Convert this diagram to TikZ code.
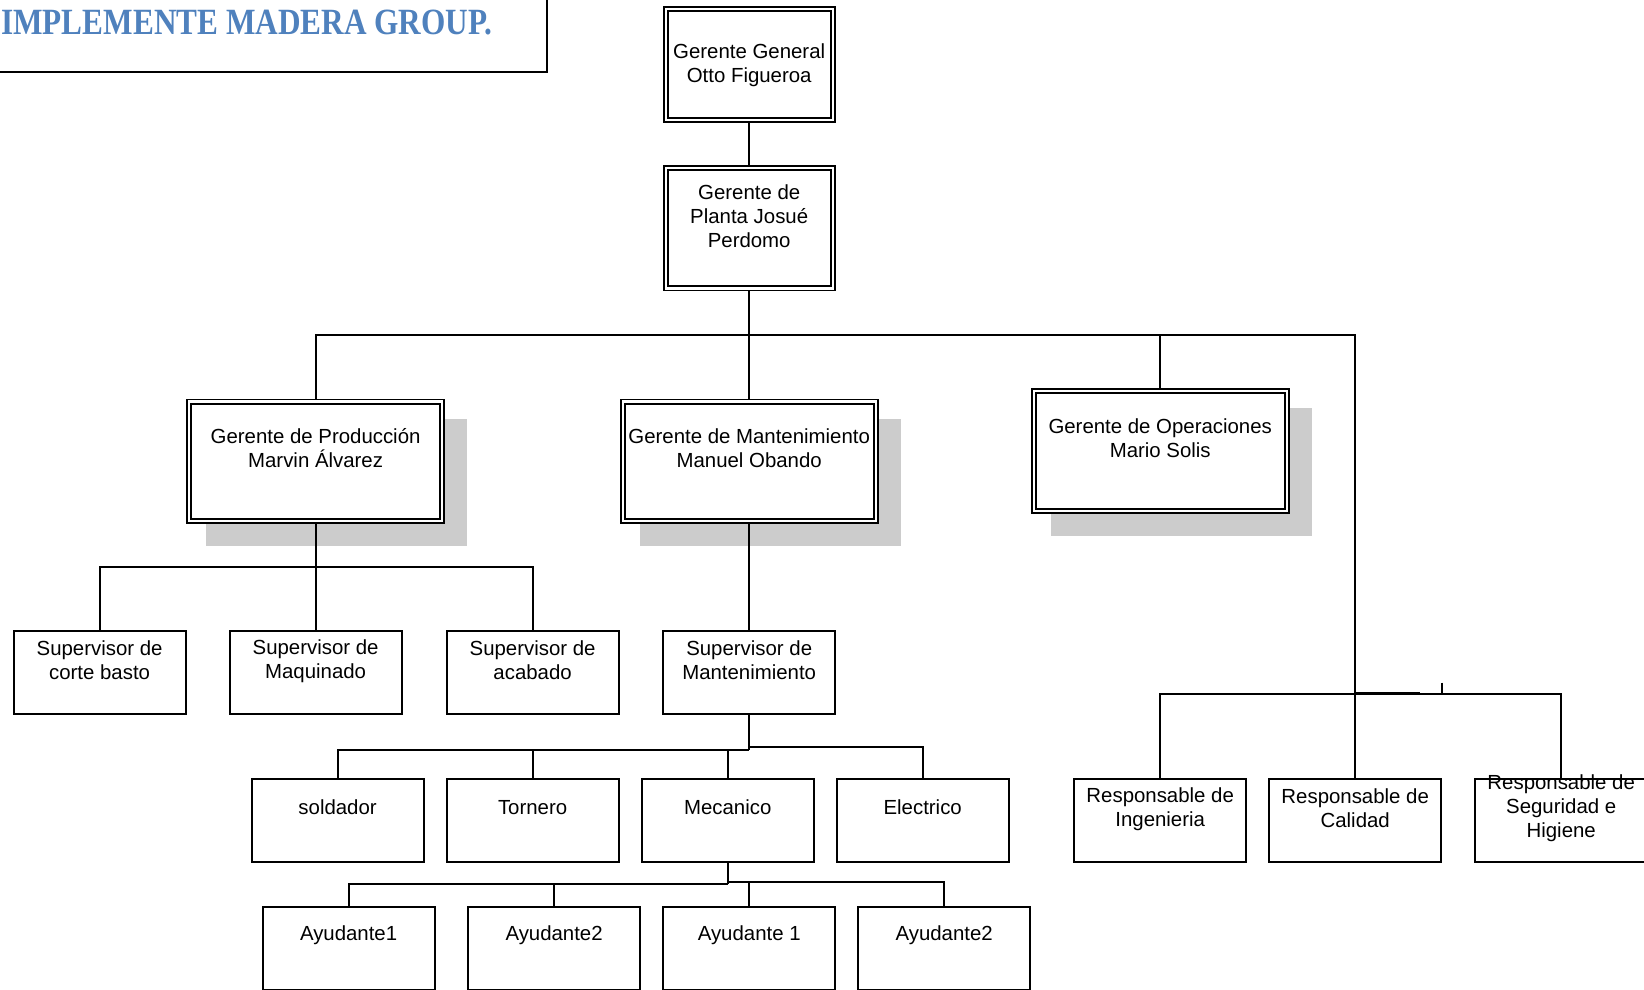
\documentclass[tikz,border=0pt]{standalone}
\usepackage{fontspec}
\setmainfont{Liberation Sans}
\newfontfamily\titlefont{Liberation Serif}
\usepackage{graphicx}
\usetikzlibrary{backgrounds}
\definecolor{titleblue}{HTML}{4F81BD}
\definecolor{shadowgray}{HTML}{CCCCCC}
\begin{document}
\begin{tikzpicture}[x=1pt,y=-1pt,
  dbox/.style={draw, double, line width=1.9pt, double distance=2.2pt, fill=white, inner sep=0pt},
  sbox/.style={draw, line width=2pt, fill=white, inner sep=0pt, minimum width=172pt, minimum height=83pt},
  txt/.style={font=\fontsize{20.4}{24}\selectfont, align=center, inner sep=0pt},
  conn/.style={line width=2pt},
  shad/.style={fill=shadowgray}
]
\useasboundingbox (0,0) rectangle (1644,990);

% title
\node[draw, line width=2pt, minimum width=560pt, minimum height=85pt, inner sep=0pt] (tbox) at (267,29.5) {};
\node[font=\titlefont\bfseries\fontsize{37}{40}\selectfont, text=titleblue, anchor=base west, inner sep=0pt] (title) at (1,34.8) {\scalebox{0.845}[1]{IMPLEMENTE MADERA GROUP.}};

% top levels
\node[dbox, minimum width=167pt, minimum height=110.3pt] (gg) at (749.2,64.5) {};
\node[txt] (ggt) at (749.2,65.5) {Gerente General\\Otto Figueroa};
\node[dbox, minimum width=167pt, minimum height=120.8pt] (gp) at (749.2,228) {};
\node[txt] (gpt) at (749.2,216) {Gerente de\\Planta Josué\\Perdomo};

\node[dbox, minimum width=252.9pt, minimum height=119.8pt] (prod) at (315.6,461.4) {};
\node[txt] (prodt) at (315.6,448) {Gerente de Producción\\Marvin Álvarez};
\node[dbox, minimum width=252.9pt, minimum height=119.8pt] (mant) at (749.2,461.4) {};
\node[txt] (mantt) at (749.2,448) {Gerente de Mantenimiento\\Manuel Obando};
\node[dbox, minimum width=252.9pt, minimum height=119.7pt] (oper) at (1160.2,450.9) {};
\node[txt] (opert) at (1160.2,438.3) {Gerente de Operaciones\\Mario Solis};

% supervisors
\node[sbox] (corte) at (99.6,672.7) {};
\node[txt] (cortet) at (99.6,660) {Supervisor de\\corte basto};
\node[sbox] (maq) at (315.6,672.7) {};
\node[txt] (maqt) at (315.6,661.5) {Supervisor de\\Maquinado};
\node[sbox] (acab) at (532.6,672.7) {};
\node[txt] (acabt) at (532.6,660) {Supervisor de\\acabado};
\node[sbox] (supmant) at (749.2,672.7) {};
\node[txt] (supmantt) at (749.2,660) {Supervisor de\\Mantenimiento};

% level 4
\node[sbox] (sold) at (337.6,820.5) {};
\node[txt] (soldt) at (337.6,807) {soldador};
\node[sbox] (torn) at (532.6,820.5) {};
\node[txt] (tornt) at (532.6,807.5) {Tornero};
\node[sbox] (mec) at (727.7,820.5) {};
\node[txt] (mect) at (727.7,807) {Mecanico};
\node[sbox] (elec) at (922.7,820.5) {};
\node[txt] (elect) at (922.7,807) {Electrico};

% level 5
\node[sbox] (ay1) at (348.6,948.5) {};
\node[txt] (ay1t) at (348.6,935.5) {Ayudante1};
\node[sbox] (ay2) at (554.1,948.5) {};
\node[txt] (ay2t) at (554.1,935.5) {Ayudante2};
\node[sbox] (ay3) at (749.2,948.5) {};
\node[txt] (ay3t) at (749.2,935.5) {Ayudante 1};
\node[sbox] (ay4) at (944.2,948.5) {};
\node[txt] (ay4t) at (944.2,935.5) {Ayudante2};

% responsables
\node[sbox] (ing) at (1160.2,820.5) {};
\node[txt] (ingt) at (1160.2,809) {Responsable de\\Ingenieria};
\node[sbox] (cal) at (1355.2,820.5) {};
\node[txt] (calt) at (1355.2,808) {Responsable de\\Calidad};
\node[sbox] (seg) at (1561.2,820.5) {};
\node[txt] (segt) at (1561.2,808.5) {Responsable de\\Seguridad e\\Higiene};

\coordinate (b1) at (0,334.5);
\coordinate (b2) at (0,567.2);
\coordinate (b3l) at (0,749.7);
\coordinate (b3r) at (0,746.5);
\coordinate (b4l) at (0,883.9);
\coordinate (b4r) at (0,881.8);
\coordinate (b5) at (0,694);
\coordinate (tick) at (1441.7,682.6);
\coordinate (thk) at (1420,693.7);

\begin{pgfonlayer}{background}
  % shadows
  \fill[shad] ([shift={(18,18)}]prod.north west) rectangle ([shift={(24,24)}]prod.south east);
  \fill[shad] ([shift={(18,18)}]mant.north west) rectangle ([shift={(24,24)}]mant.south east);
  \fill[shad] ([shift={(18,18)}]oper.north west) rectangle ([shift={(24,24)}]oper.south east);
  % connectors
  \draw[conn] (gg) -- (gp);
  \draw[conn] (gp.south) -- (mant.north);
  \draw[conn] (prod.north) |- (gp.south |- b1) -| (cal.north);
  \draw[conn] (oper.north) -- (oper.north |- b1);
  \draw[conn] (prod.south) -- (maq.north);
  \draw[conn] (corte.north) |- (prod.south |- b2) -| (acab.north);
  \draw[conn] (mant.south) -- (supmant.north);
  \draw[conn] (supmant.south) -- (supmant.south |- b3l);
  \draw[conn] (sold.north) |- (supmant.south |- b3l);
  \draw[conn] (torn.north) -- (torn.north |- b3l);
  \draw[conn] (mec.north) -- (mec.north |- b3l);
  \draw[conn] (supmant.south |- b3r) -| (elec.north);
  \draw[conn] (mec.south) -- (mec.south |- b4l);
  \draw[conn] (ay1.north) |- (mec.south |- b4l);
  \draw[conn] (ay2.north) -- (ay2.north |- b4l);
  \draw[conn] (mec.south |- b4r) -| (ay4.north);
  \draw[conn] (ay3.north) -- (ay3.north |- b4r);
  \draw[conn] (ing.north) |- (seg.north |- b5) -- (seg.north);
  \draw[conn] (tick) -- (tick |- b5);
  \draw[conn, line width=2.8pt] (cal.north |- thk) -- (thk);
\end{pgfonlayer}
\end{tikzpicture}
\end{document}
